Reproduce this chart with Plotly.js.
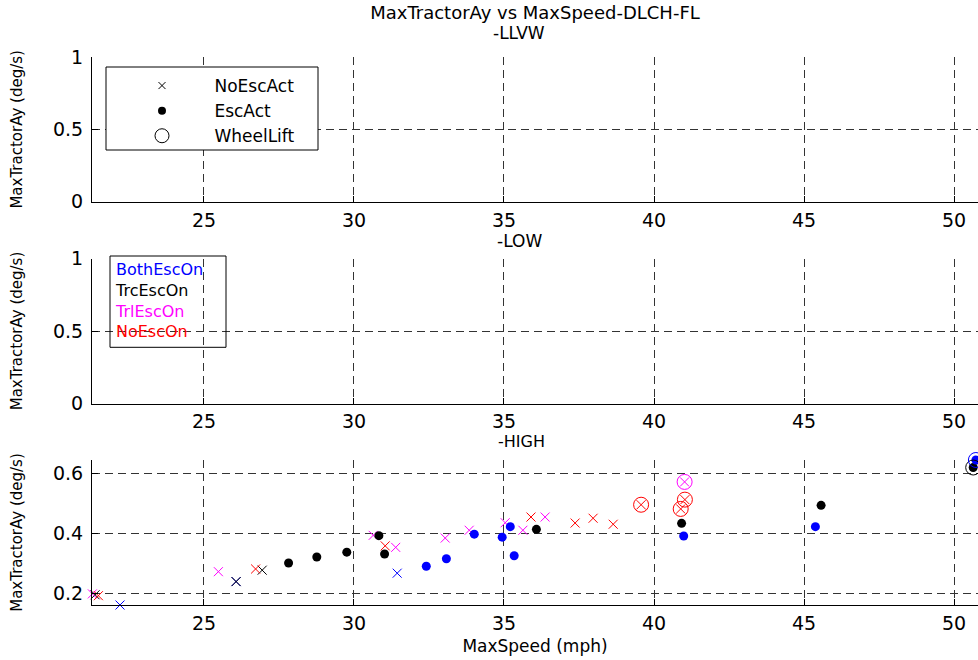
<!DOCTYPE html>
<html>
<head>
<meta charset="utf-8">
<script src="https://cdn.plot.ly/plotly-3.0.1.min.js"></script>
<style>html,body{margin:0;padding:0;background:#fff;}#chart{width:978px;height:660px;}</style>
</head>
<body>
<div id="chart"></div>
<script>
// ---- Data (HIGH panel) ----
// BothEscOn (blue)
const bothNoActSpeed = [22.2, 26.07, 31.44];
const bothNoActAy    = [0.161, 0.239, 0.267];
const bothActSpeed   = [32.41, 33.08, 34.01, 34.94, 35.21, 35.34, 40.99, 45.38, 50.73];
const bothActAy      = [0.290, 0.315, 0.397, 0.387, 0.422, 0.325, 0.391, 0.422, 0.644];
const bothLiftSpeed  = [50.73];
const bothLiftAy     = [0.644];
// TrcEscOn (black)
const trcNoActSpeed = [21.37, 26.07, 26.94];
const trcNoActAy    = [0.195, 0.239, 0.277];
const trcActSpeed   = [27.82, 28.76, 29.76, 30.83, 31.02, 36.08, 40.92, 45.57, 50.64];
const trcActAy      = [0.301, 0.321, 0.337, 0.392, 0.331, 0.413, 0.433, 0.493, 0.619];
const trcLiftSpeed  = [50.64];
const trcLiftAy     = [0.619];
// TrlEscOn (magenta)
const trlNoActSpeed = [21.28, 25.48, 30.64, 31.39, 33.04, 33.84, 35.04, 35.63, 36.37, 41.02];
const trlNoActAy    = [0.198, 0.272, 0.393, 0.353, 0.384, 0.410, 0.435, 0.410, 0.454, 0.571];
const trlLiftSpeed  = [41.02];
const trlLiftAy     = [0.571];
// NoEscOn (red)
const noNoActSpeed = [21.48, 26.72, 31.04, 35.90, 37.37, 37.97, 38.64, 39.57, 41.03, 40.89];
const noNoActAy    = [0.192, 0.281, 0.358, 0.454, 0.434, 0.450, 0.430, 0.495, 0.512, 0.481];
const noLiftSpeed  = [39.57, 41.03, 40.89];
const noLiftAy     = [0.495, 0.512, 0.481];

const markerLegendNames = ['NoEscAct', 'EscAct', 'WheelLift'];
const colorLegendNames = ['BothEscOn', 'TrcEscOn', 'TrlEscOn', 'NoEscOn'];
const seriesColors = ['#0000ff', '#000000', '#ff00ff', '#ff0000'];
const panelTitles = ['-LLVW', '-LOW', '-HIGH'];
const xTickStep = 5;

const FONT = 'DejaVu Sans';
function crosses(x, y, c) {
  return {x, y, xaxis: 'x3', yaxis: 'y3', mode: 'markers', type: 'scatter', showlegend: false, cliponaxis: false,
    marker: {symbol: 'x-thin-open', size: 9, color: c, line: {width: 1, color: c}}, hoverinfo: 'x+y'};
}
function dots(x, y, c) {
  return {x, y, xaxis: 'x3', yaxis: 'y3', mode: 'markers', type: 'scatter', showlegend: false, cliponaxis: false,
    marker: {symbol: 'circle', size: 9, color: c, line: {width: 0}}, hoverinfo: 'x+y'};
}
function rings(x, y, c) {
  return {x, y, xaxis: 'x3', yaxis: 'y3', mode: 'markers', type: 'scatter', showlegend: false, cliponaxis: false,
    marker: {symbol: 'circle-open', size: 15, color: c, line: {width: 1, color: c}}, hoverinfo: 'x+y'};
}
const pad = '\u00a0\u00a0\u00a0\u00a0\u00a0\u00a0';
const legendTraces = [
  {name: pad + markerLegendNames[0], x: [null], y: [null], mode: 'markers', type: 'scatter',
    marker: {symbol: 'x-thin-open', size: 7, color: 'black', line: {width: 1, color: 'black'}}},
  {name: pad + markerLegendNames[1], x: [null], y: [null], mode: 'markers', type: 'scatter',
    marker: {symbol: 'circle', size: 8, color: 'black'}},
  {name: pad + markerLegendNames[2], x: [null], y: [null], mode: 'markers', type: 'scatter',
    marker: {symbol: 'circle-open', size: 14, color: 'black', line: {width: 1, color: 'black'}}}
];
// empty LOW panel (no data in the reference)
const lowPanelTrace = {x: [null], y: [null], xaxis: 'x2', yaxis: 'y2', mode: 'markers', type: 'scatter', showlegend: false};

const data = [
  ...legendTraces,
  lowPanelTrace,
  crosses(bothNoActSpeed, bothNoActAy, seriesColors[0]),
  crosses(trcNoActSpeed, trcNoActAy, seriesColors[1]),
  crosses(trlNoActSpeed, trlNoActAy, seriesColors[2]),
  crosses(noNoActSpeed, noNoActAy, seriesColors[3]),
  dots(trcActSpeed, trcActAy, seriesColors[1]),
  dots(bothActSpeed, bothActAy, seriesColors[0]),
  rings(trlLiftSpeed, trlLiftAy, seriesColors[2]),
  rings(noLiftSpeed, noLiftAy, seriesColors[3]),
  rings(trcLiftSpeed, trcLiftAy, seriesColors[1]),
  rings(bothLiftSpeed, bothLiftAy, seriesColors[0])
];

const L = 92, T = 57, B = 605, W = 886, H = 548;
const px = v => (v - L) / W;
const py = v => (B - v) / H;

const xBase = {range: [21.267, 50.8], dtick: xTickStep, tick0: 0, ticks: 'inside', ticklen: 6, tickcolor: '#000',
  showline: true, linecolor: '#000', linewidth: 1, mirror: false, showgrid: true, gridcolor: '#333',
  griddash: '8px,5px', gridwidth: 1, zeroline: false, tickfont: {family: FONT, size: 19, color: '#000'},
  ticklabelstandoff: 1, fixedrange: true};
const yBase = {ticks: 'inside', ticklen: 6, tickcolor: '#000', showline: true, linecolor: '#000', linewidth: 1,
  mirror: false, showgrid: true, gridcolor: '#333', griddash: '8px,5px', gridwidth: 1, zeroline: false,
  tickfont: {family: FONT, size: 19, color: '#000'}, ticklabelstandoff: 4, fixedrange: true,
  title: {text: 'MaxTractorAy (deg/s)', font: {family: FONT, size: 15, color: '#000'}, standoff: 26}};

const layout = {
  width: 978, height: 660,
  margin: {l: L, r: 0, t: T, b: 660 - B, pad: 0},
  paper_bgcolor: '#fff', plot_bgcolor: '#fff',
  font: {family: FONT, color: '#000'},
  title: {text: 'MaxTractorAy vs MaxSpeed-DLCH-FL', font: {family: FONT, size: 18, color: '#000'},
    x: 0.5, xref: 'paper', xanchor: 'center', y: 1 - 13 / 660, yref: 'container', yanchor: 'middle'},
  xaxis: Object.assign({}, xBase, {anchor: 'y'}),
  yaxis: Object.assign({}, yBase, {anchor: 'x', domain: [py(201.7), 1], range: [0, 1], dtick: 0.5, tick0: 0}),
  xaxis2: Object.assign({}, xBase, {anchor: 'y2'}),
  yaxis2: Object.assign({}, yBase, {anchor: 'x2', domain: [py(403.5), py(258.5)], range: [0, 1], dtick: 0.5, tick0: 0}),
  xaxis3: Object.assign({}, xBase, {anchor: 'y3',
    title: {text: 'MaxSpeed (mph)', font: {family: FONT, size: 17, color: '#000'}, standoff: 7}}),
  yaxis3: Object.assign({}, yBase, {anchor: 'x3', domain: [0, py(460)], range: [0.161, 0.644], dtick: 0.2, tick0: 0}),
  showlegend: true,
  legend: {x: px(142), y: py(68), xanchor: 'left', yanchor: 'top', bgcolor: 'rgba(0,0,0,0)', borderwidth: 0,
    font: {family: FONT, size: 17, color: '#000'}, itemclick: false, itemdoubleclick: false},
  shapes: [
    {type: 'rect', xref: 'paper', yref: 'paper', x0: px(106), x1: px(318), y0: py(150), y1: py(67),
      line: {color: '#000', width: 1}, fillcolor: '#fff', layer: 'above'},
    {type: 'rect', xref: 'paper', yref: 'paper', x0: px(110), x1: px(226), y0: py(347.3), y1: py(256),
      line: {color: '#000', width: 1}, fillcolor: 'rgba(255,255,255,0)', layer: 'above'}
  ],
  annotations: [
    {text: panelTitles[0], xref: 'paper', yref: 'paper', x: px(519), y: py(33), xanchor: 'center', yanchor: 'middle',
      showarrow: false, font: {family: FONT, size: 17, color: '#000'}},
    {text: panelTitles[1], xref: 'paper', yref: 'paper', x: px(519), y: py(241), xanchor: 'center', yanchor: 'middle',
      showarrow: false, font: {family: FONT, size: 17, color: '#000'}},
    {text: panelTitles[2], xref: 'paper', yref: 'paper', x: px(521), y: py(441), xanchor: 'center', yanchor: 'middle',
      showarrow: false, font: {family: FONT, size: 16, color: '#000'}},
    {text: colorLegendNames.map((n, i) => '<span style="color:' + seriesColors[i] + '">' + n + '</span>').join('<br>'),
      xref: 'paper', yref: 'paper', x: px(113), y: py(300), xanchor: 'left', yanchor: 'middle', align: 'left',
      showarrow: false, font: {family: FONT, size: 16, color: '#000'}}
  ]
};

Plotly.newPlot('chart', data, layout, {displayModeBar: false, staticPlot: true});
</script>
</body>
</html>
